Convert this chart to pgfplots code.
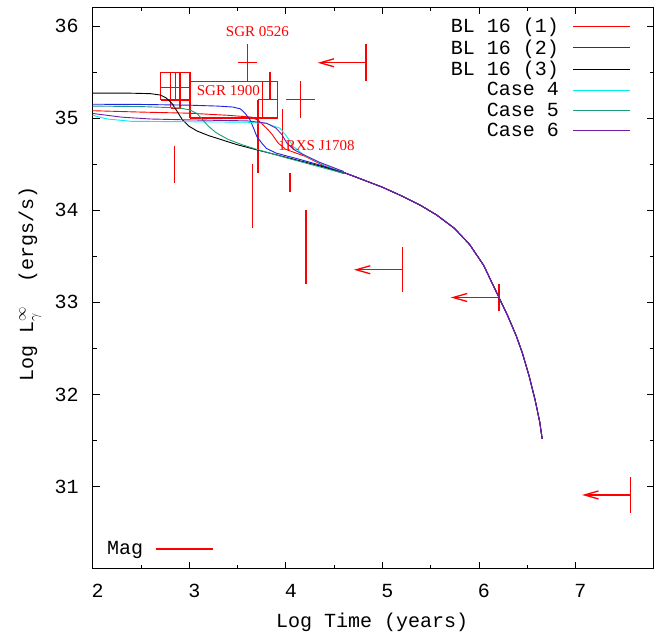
\documentclass[border=0pt]{standalone}
\usepackage{fontspec}
\setmainfont{Liberation Mono}
\newfontfamily\serifred{Liberation Serif}
\usepackage{pgfplots}
\pgfplotsset{compat=1.18}
\usepackage{pgfplotstable}
\usetikzlibrary{arrows.meta}
\definecolor{cteal}{HTML}{1A9E7A}
\definecolor{cpurp}{HTML}{7020A8}
\definecolor{ccyan}{HTML}{00F0F0}
\definecolor{cblue}{HTML}{2020E8}

\pgfplotstableread{
x y
4.6 34.41
4.8 34.33
5.0 34.25
5.2 34.155
5.4 34.05
5.56 33.95
5.75 33.80
5.906 33.625
6.05 33.40
6.209 33.05
6.3 32.85
6.389 32.63
6.45 32.45
6.52 32.20
6.58 31.95
6.63 31.70
6.655 31.52
}\tail

\pgfplotstableread{
x y
2.0 35.08
2.5 35.065
3.0 35.053
3.4 35.03
3.65 35.01
3.72 34.97
3.77 34.92
3.82 34.87
3.86 34.82
3.92 34.73
4.0 34.66
4.2 34.585
4.4 34.48
4.6 34.41
}\bla

\pgfplotstableread{
x y
2.0 35.15
2.5 35.148
3.0 35.14
3.3 35.13
3.45 35.12
3.53 35.10
3.58 35.05
3.63 34.98
3.67 34.88
3.70 34.80
3.75 34.73
3.80 34.67
3.9 34.62
3.97 34.60
4.15 34.55
4.32 34.50
4.6 34.41
}\blb

\pgfplotstableread{
x y
2.0 35.27
2.4 35.27
2.6 35.265
2.7 35.25
2.76 35.22
2.82 35.16
2.87 35.08
2.93 34.98
3.0 34.91
3.08 34.86
3.2 34.81
3.35 34.76
3.5 34.71
3.7 34.655
4.04 34.565
4.39 34.47
4.6 34.40
}\blc

\pgfplotstableread{
x y
2.0 35.03
2.15 34.99
2.4 34.965
3.0 34.96
3.6 34.955
3.8 34.94
3.94 34.89
4.01 34.80
4.08 34.69
4.2 34.59
4.4 34.49
4.6 34.42
}\cased

\pgfplotstableread{
x y
2.0 35.13
2.5 35.125
2.9 35.11
3.0 35.09
3.08 35.05
3.14 34.98
3.2 34.91
3.28 34.84
3.4 34.77
3.55 34.71
3.7 34.66
4.0 34.57
4.3 34.485
4.6 34.40
}\casee

\pgfplotstableread{
x y
2.0 35.05
2.3 35.01
2.6 34.99
3.0 34.98
3.6 34.97
3.8 34.945
3.9 34.89
3.96 34.82
4.01 34.73
4.08 34.66
4.15 34.62
4.35 34.52
4.6 34.42
}\casef

\pgfplotstableread{
x y ey
2.845 34.50 0.20
3.712 34.80 0.40
3.656 34.155 0.345
3.967 34.93 0.17
4.043 34.30 0.10
4.208 33.60 0.40
3.835 35.35 0.147
4.83 35.60 0.20
5.205 33.354 0.246
6.209 33.053 0.15
7.569 30.91 0.195
}\ybars

\pgfplotstableread{
x y ex ey
3.605 35.60 0.10 0.20
4.153 35.205 0.15 0.20
}\crosses

\pgfplotstableread{
x y
4.83 35.60
5.205 33.354
6.209 33.053
7.569 30.91
}\limits

\pgfplotstableread{
x y
2.704 35.197
3.007 35.197
3.007 35.498
2.704 35.498
2.704 35.197
nan nan
2.704 35.335
3.007 35.335
nan nan
2.807 35.107
2.904 35.107
2.904 35.498
2.807 35.498
2.807 35.107
nan nan
2.860 35.197
2.860 35.498
nan nan
3.007 35.0
3.911 35.0
3.911 35.40
3.007 35.40
3.007 35.0
nan nan
3.760 35.0
3.760 35.40
nan nan
3.712 35.205
3.911 35.205
}\boxes

\begin{document}
\begin{tikzpicture}
\path[use as bounding box] (-92.7pt,-66.3pt) rectangle (572.3pt,568.7pt);
\begin{axis}[
  at={(0pt,0pt)}, anchor=south west,
  scale only axis, width=561pt, height=561.2pt,
  xmin=2, xmax=7.81, ymin=30.11, ymax=36.2,
  xtick={2,3,4,5,6,7}, ytick={31,32,33,34,35,36},
  minor x tick num=1, minor y tick num=1,
  tick align=inside, major tick length=7pt, minor tick length=4pt,
  axis line style={line width=1.2pt},
  every tick/.style={black, line width=0.8pt},
  /pgf/number format/assume math mode=true,
  tick label style={font=\fontsize{20}{24}\selectfont},
  xticklabel style={anchor=center, yshift=-22pt, xshift=5pt},
  yticklabel style={anchor=center, xshift=-26pt},
  xlabel={Log Time (years)},
  ylabel={Log L$_{\gamma}^{\infty}$\hspace{1.2em}(ergs/s)},
  label style={font=\fontsize{20}{24}\selectfont},
  xlabel style={at={(axis description cs:0.498,-0.095)}, anchor=center},
  ylabel style={at={(axis description cs:-0.112,0.508)}, anchor=center},
  unbounded coords=jump,
  legend cell align=right, legend plot pos=right,
  legend style={at={(0.965,0.985)}, anchor=north east, draw=none, fill=none,
    font=\fontsize{20}{24}\selectfont, row sep=5.5pt, column sep=14pt,
    nodes={inner sep=0pt}},
  legend image code/.code={\draw[#1] (0pt,0pt) -- (57pt,0pt);},
]
% magnetar data
\addplot[red, line width=1.3pt, forget plot] table {\boxes};
\addplot[draw=none, mark=none, forget plot,
  error bars/.cd, y dir=both, y explicit, error mark=none,
  error bar style={draw=red, solid, line width=1.3pt}]
  table[x=x, y=y, y error=ey] {\ybars};
\addplot[draw=none, mark=none, forget plot,
  error bars/.cd, x dir=both, x explicit, y dir=both, y explicit, error mark=none,
  error bar style={draw=red, solid, line width=1.3pt}]
  table[x=x, y=y, x error=ex, y error=ey] {\crosses};
\addplot[red, line width=1.3pt, forget plot, mark=none,
  -{Straight Barb[length=14pt,width=8pt]},
  quiver={u=-0.5, v=0}] table {\limits};
% curves
\addplot[red, line width=0.9pt] table {\bla};
\addlegendentry{BL 16 (1)}
\addplot[cblue, line width=0.9pt] table {\blb};
\addlegendentry{BL 16 (2)}
\addplot[black, line width=0.9pt] table {\blc};
\addlegendentry{BL 16 (3)}
\addplot[ccyan, line width=0.9pt] table {\cased};
\addlegendentry{Case 4}
\addplot[cteal, line width=0.9pt] table {\casee};
\addlegendentry{Case 5}
\addplot[cpurp, line width=0.9pt] table {\casef};
\addlegendentry{Case 6}
\addplot[ccyan, line width=0.9pt, forget plot] table {\tail};
\addplot[cteal, line width=0.9pt, forget plot] table {\tail};
\addplot[black, line width=0.9pt, forget plot] table {\tail};
\addplot[red, line width=0.9pt, forget plot] table {\tail};
\addplot[cblue, line width=0.9pt, forget plot] table {\tail};
\addplot[cpurp, line width=0.9pt, forget plot] table {\tail};
% labels
\node[red, font=\serifred\fontsize{15}{18}\selectfont] at (axis cs:3.706,35.94) {SGR 0526};
\node[red, font=\serifred\fontsize{15}{18}\selectfont, anchor=west, inner sep=0pt] at (axis cs:3.077,35.30) {SGR 1900};
\node[red, font=\serifred\fontsize{15}{18}\selectfont, anchor=west, inner sep=0pt] at (axis cs:3.921,34.70) {1RXS J1708};
\end{axis}
\begin{axis}[
  at={(0pt,0pt)}, anchor=south west,
  scale only axis, width=561pt, height=561.2pt,
  xmin=0, xmax=1, ymin=0, ymax=1, hide axis,
  legend plot pos=right,
  legend style={at={(0.020,0.018)}, anchor=south west, draw=none, fill=none,
    font=\fontsize{20}{24}\selectfont, column sep=12pt, nodes={inner sep=0pt}},
  legend image code/.code={\draw[#1] (0pt,0pt) -- (57pt,0pt);},
]
\addplot[draw=none, forget plot] coordinates {(0.5,0.5)};
\addlegendimage{red, line width=1.3pt}
\addlegendentry{Mag}
\end{axis}
\end{tikzpicture}
\end{document}
